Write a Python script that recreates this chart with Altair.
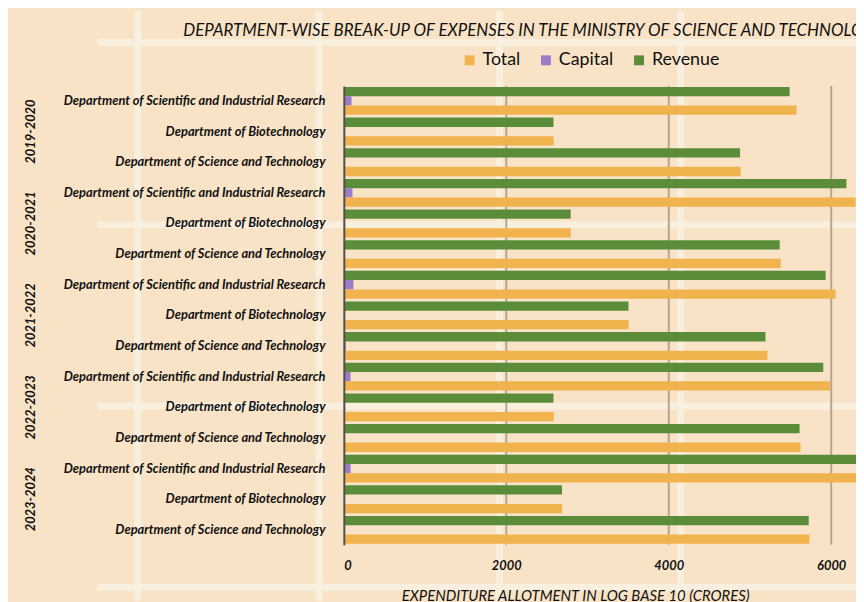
import altair as alt
import pandas as pd

years = ["2019-2020", "2020-2021", "2021-2022", "2022-2023", "2023-2024"]
depts = [
    "Department of Scientific and Industrial Research",
    "Department of Biotechnology",
    "Department of Science and Technology",
]
# one value per (year, department), in the order above
revenue = [5488, 2581, 4878, 6187, 2793, 5366, 5931, 3504, 5191, 5902, 2581, 5610, 6570, 2686, 5723]
capital = [95, 2, 12, 106, 1, 12, 118, 2, 24, 82, 2, 10, 84, 1, 8]
total = [5573, 2583, 4886, 6300, 2794, 5378, 6053, 3506, 5215, 5984, 2583, 5622, 6654, 2687, 5732]
series = ["Total", "Capital", "Revenue"]
series_colors = ["#F0B34E", "#9C7BC9", "#5A8C3A"]
x_ticks = [0, 2000, 4000, 6000]
title_text = "DEPARTMENT-WISE BREAK-UP OF EXPENSES IN THE MINISTRY OF SCIENCE AND TECHNOLOGY"
x_title = "EXPENDITURE ALLOTMENT IN LOG BASE 10 (CRORES)"

BG = "#F9E3C6"
CREAM = "#F7F0E0"
GRID = "#B5A58F"
FONT = "Lato"

keys = [f"{yr}|{d}" for yr in years for d in depts]
rows = []
for i, k in enumerate(keys):
    yr, d = k.split("|")
    rows.append(dict(key=k, year=yr, dept=d, type="Revenue", value=revenue[i]))
    rows.append(dict(key=k, year=yr, dept=d, type="Capital", value=capital[i]))
    rows.append(dict(key=k, year=yr, dept=d, type="Total", value=total[i]))
df = pd.DataFrame(rows)
year_df = pd.DataFrame({"key": [f"{yr}|{depts[1]}" for yr in years], "year": years})
grid_df = pd.DataFrame({"value": x_ticks[1:]})
title_df = pd.DataFrame({"t": [title_text]})

# decorative background grid-paper lines (pixel positions relative to plot)
deco = []
for vx in [-208, -25, 157, 340]:
    deco.append(
        alt.Chart(title_df).mark_rule(color=CREAM, strokeWidth=7, opacity=0.9).encode(
            x=alt.value(vx), y=alt.value(-76), y2=alt.value(520)
        )
    )
for hy in [-44, 140, 323, 506]:
    deco.append(
        alt.Chart(title_df).mark_rule(color=CREAM, strokeWidth=7, opacity=0.9).encode(
            x=alt.value(-249), x2=alt.value(520), y=alt.value(hy)
        )
    )

x_scale = alt.Scale(domain=[0, 6305], nice=False, zero=True)

gridlines = alt.Chart(grid_df).mark_rule(color=GRID, strokeWidth=2).encode(
    x=alt.X("value:Q", scale=x_scale)
)

bars = alt.Chart(df).mark_bar(clip=True).encode(
    x=alt.X(
        "value:Q",
        scale=x_scale,
        axis=alt.Axis(
            values=x_ticks,
            format="d",
            title=x_title,
            titleFont=FONT,
            titleFontSize=15,
            titleFontWeight="normal",
            titleFontStyle="italic",
            titleColor="#111",
            titleAnchor="start",
            titleX=58,
            titleY=44,
            titleBaseline="top",
            grid=False,
            domain=False,
            ticks=False,
            labelPadding=15,
            labelFont=FONT,
            labelFontSize=13,
            labelFontWeight="bold",
            labelFontStyle="italic",
            labelColor="#111",
            zindex=1,
        ),
    ),
    y=alt.Y(
        "key:N",
        sort=keys,
        scale=alt.Scale(paddingInner=0.09, paddingOuter=0.03),
        axis=alt.Axis(
            title=None,
            labelExpr="split(datum.value, '|')[1]",
            ticks=False,
            domain=True,
            domainColor="#4F4F4F",
            domainWidth=2,
            grid=False,
            labelPadding=19,
            labelFont=FONT,
            labelFontSize=13,
            labelFontWeight="bold",
            labelFontStyle="italic",
            labelColor="#111",
            labelLimit=400,
            zindex=1,
        ),
    ),
    yOffset=alt.YOffset(
        "type:N",
        sort=["Revenue", "Capital", "Total"],
        scale=alt.Scale(paddingInner=0, paddingOuter=0),
    ),
    color=alt.Color(
        "type:N",
        scale=alt.Scale(domain=series, range=series_colors),
        sort=series,
        legend=alt.Legend(
            title=None,
            orient="none",
            direction="horizontal",
            legendX=118,
            legendY=-35,
            padding=0,
            symbolType="square",
            symbolSize=100,
            symbolStrokeWidth=0,
            labelFont=FONT,
            labelFontSize=18,
            labelColor="#111",
            labelOffset=4,
            columnPadding=16,
            zindex=1,
        ),
    ),
)

year_text = alt.Chart(year_df).mark_text(
    angle=270,
    font=FONT,
    fontSize=13,
    fontWeight="bold",
    fontStyle="italic",
    align="center",
    baseline="middle",
    color="#111",
).encode(x=alt.value(-316), y=alt.Y("key:N", sort=keys), text="year:N")

title_mark = alt.Chart(title_df).mark_text(
    font=FONT,
    fontSize=17,
    fontStyle="italic",
    fontWeight="normal",
    align="left",
    baseline="alphabetic",
    color="#111",
).encode(x=alt.value(-162), y=alt.value(-51), text="t:N")

chart = alt.layer(*deco, gridlines, bars, year_text, title_mark).properties(
    width=517,
    height=463,
    padding={"left": 339, "top": 76, "right": 0, "bottom": 55},
    autosize=alt.AutoSizeParams(type="none"),
    background=BG,
).configure_view(stroke=None)

chart.save("out.html", embed_options={"renderer": "svg", "actions": False})
